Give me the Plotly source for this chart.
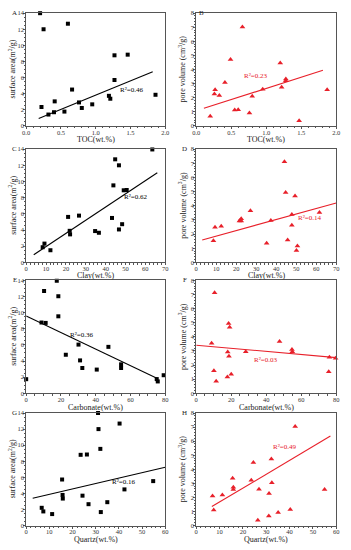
import plotly.graph_objects as go

# ---------------- data ----------------
toc_A = [0.20, 0.25, 0.22, 0.32, 0.41, 0.40, 0.55, 0.60, 0.66, 0.76, 0.80, 0.95, 1.19, 1.21, 1.27, 1.27, 1.46, 1.86]
sa_A = [14.0, 12.0, 2.33, 1.39, 3.03, 1.68, 1.76, 12.69, 4.50, 2.90, 2.21, 2.66, 3.72, 3.36, 8.76, 5.69, 8.84, 3.85]
toc_B = [0.20, 0.26, 0.27, 0.33, 0.41, 0.49, 0.55, 0.60, 0.66, 0.76, 0.80, 0.95, 1.20, 1.22, 1.28, 1.28, 1.47, 1.87]
pv_B = [0.68, 2.26, 2.56, 2.14, 3.08, 4.71, 1.12, 1.14, 7.02, 0.91, 2.10, 2.59, 4.45, 2.73, 3.33, 3.19, 0.35, 2.56]

clay_C = [8.3, 9.2, 12.2, 21.1, 21.9, 22.1, 26.6, 34.7, 36.6, 43.2, 43.9, 44.8, 46.7, 46.7, 48.3, 49.1, 50.6, 63.5]
sa_C = [1.87, 2.32, 1.50, 5.62, 3.90, 3.46, 5.78, 3.87, 3.66, 5.49, 9.52, 12.74, 12.0, 4.07, 4.72, 8.91, 8.95, 13.96]
clay_D = [8.6, 9.4, 12.5, 21.6, 22.0, 22.5, 22.5, 27.1, 35.2, 37.3, 44.1, 44.7, 45.7, 47.8, 47.8, 49.4, 50.1, 50.6, 61.6]
pv_D = [1.53, 2.48, 2.55, 2.92, 2.97, 3.09, 2.92, 3.64, 1.35, 2.95, 7.10, 4.94, 1.58, 3.39, 2.62, 4.69, 0.84, 1.16, 3.53]

carb_E = [0.0, 8.8, 10.3, 11.2, 17.6, 18.5, 18.5, 22.8, 30.1, 31.0, 32.3, 40.6, 47.3, 54.6, 54.6, 75.1, 75.7, 79.1]
sa_E = [1.75, 8.78, 12.69, 8.73, 13.96, 12.04, 9.55, 4.78, 6.04, 4.08, 3.14, 2.94, 5.76, 3.59, 3.14, 1.76, 1.47, 2.24]
carb_F = [8.8, 10.1, 10.5, 11.4, 17.8, 18.0, 18.5, 18.7, 19.1, 20.0, 28.3, 47.6, 54.7, 54.9, 75.7, 76.1, 79.6]
pv_F = [3.55, 1.60, 7.12, 0.86, 1.16, 2.92, 4.94, 2.62, 4.69, 1.35, 2.95, 3.67, 3.11, 2.95, 1.53, 2.55, 2.48]

qtz_G = [6.7, 7.4, 11.2, 15.5, 15.7, 15.8, 23.5, 26.2, 24.3, 26.9, 31.0, 31.2, 32.0, 32.2, 35.0, 40.3, 42.4, 54.8]
sa_G = [2.21, 1.76, 1.43, 5.73, 3.81, 3.36, 8.80, 8.84, 3.72, 2.66, 14.0, 12.0, 9.54, 1.68, 2.91, 12.69, 4.50, 5.53]
qtz_H = [7.0, 7.5, 11.2, 15.6, 15.9, 15.9, 23.6, 24.5, 26.4, 26.9, 31.1, 31.2, 32.2, 32.4, 35.1, 40.3, 42.4, 55.0]
pv_H = [2.10, 1.10, 2.17, 3.36, 2.73, 2.56, 3.22, 4.48, 0.37, 2.59, 0.68, 2.28, 4.73, 3.05, 0.93, 1.14, 7.04, 2.56]

# fitted trend lines (end points)
fit_x = {"A": [0.18, 1.82], "B": [0.11, 1.81], "C": [3.8, 66], "D": [3, 70],
         "E": [0, 75.5], "F": [0, 80], "G": [2.8, 60], "H": [6.7, 57.5]}
fit_y = {"A": [0.90, 6.71], "B": [1.24, 3.94], "C": [0.94, 11.07], "D": [1.58, 4.20],
         "E": [9.59, 1.84], "F": [3.41, 2.53], "G": [3.40, 7.25], "H": [1.35, 6.36]}
r2_text = {"A": "R²=0.46", "B": "R²=0.23", "C": "R²=0.62", "D": "R²=0.14",
           "E": "R²=0.36", "F": "R²=0.03", "G": "R²=0.16", "H": "R²=0.49"}
r2_pos = {"A": (1.51, 4.42), "B": (0.85, 3.5), "C": (55, 8.1), "D": (56.7, 3.13),
          "E": (31.6, 7.22), "F": (39.3, 2.39), "G": (42.2, 5.4), "H": (38, 5.57)}

x_titles = ["TOC(wt.%)", "Clay(wt.%)", "Carbonate(wt.%)", "Quartz(wt.%)"]
x_ranges = [[0, 2.0], [0, 70], [0, 80], [0, 60]]
x_dticks = [0.5, 10, 20, 10]
sa_title = "surface area(m<sup>2</sup>/g)"
pv_title = "pore volume (cm<sup>3</sup>/g)"

panels = [
    ("A", toc_A, sa_A, 0, 0), ("B", toc_B, pv_B, 0, 1),
    ("C", clay_C, sa_C, 1, 0), ("D", clay_D, pv_D, 1, 1),
    ("E", carb_E, sa_E, 2, 0), ("F", carb_F, pv_F, 2, 1),
    ("G", qtz_G, sa_G, 3, 0), ("H", qtz_H, pv_H, 3, 1),
]

# ---------------- layout geometry (pixels) ----------------
W, H = 351, 550
col_x = [(22.7, 165.0), (196.7, 340.0)]
row_y = [(9.3, 123.3), (147.0, 261.7), (280.0, 394.3), (414.3, 528.3)]
xt_y = [137, 275, 409, 542]

FONT = "Liberation Serif, Times New Roman, serif"
RED = "#e8202a"

fig = go.Figure()
layout = dict(width=W, height=H, margin=dict(l=0, r=0, t=0, b=0),
              paper_bgcolor="white", plot_bgcolor="white", showlegend=False,
              font=dict(family=FONT, size=7, color="#222"))
annotations = []

for i, (lab, xs, ys, r, c) in enumerate(panels):
    n = i + 1
    xa = "x" if n == 1 else f"x{n}"
    ya = "y" if n == 1 else f"y{n}"
    red = c == 1
    col = RED if red else "black"
    fig.add_trace(go.Scatter(
        x=xs, y=ys, mode="markers", xaxis=xa, yaxis=ya, cliponaxis=False,
        marker=dict(symbol="triangle-up" if red else "square", size=5 if red else 4,
                    color=col, line=dict(width=0))))
    fig.add_trace(go.Scatter(
        x=fit_x[lab], y=fit_y[lab], mode="lines", xaxis=xa, yaxis=ya,
        line=dict(color=col, width=1.1)))
    x0, x1 = col_x[c]
    y0, y1 = row_y[r]
    axcommon = dict(showline=True, linecolor="#555", linewidth=1, mirror=True,
                    ticks="outside", ticklen=2, tickwidth=1, tickcolor="#555",
                    showgrid=False, zeroline=False, ticklabelstandoff=-2,
                    tickfont=dict(family=FONT, size=6.5, color="#333"),
                    minor=dict(ticks="outside", ticklen=1.5, tickcolor="#555"))
    layout["xaxis" if n == 1 else f"xaxis{n}"] = dict(
        axcommon, domain=[x0 / W, x1 / W], range=x_ranges[r], dtick=x_dticks[r],
        tick0=0, anchor=ya, tickformat=".1f" if r == 0 else "d")
    layout["yaxis" if n == 1 else f"yaxis{n}"] = dict(
        axcommon, domain=[1 - y1 / H, 1 - y0 / H],
        range=[0, 8] if red else [0, 14], dtick=1 if red else 2, tick0=0,
        anchor=xa)
    # axis titles
    annotations.append(dict(text=x_titles[r], xref="paper", yref="paper",
                            x=(x0 + x1) / 2 / W, y=1 - xt_y[r] / H, showarrow=False,
                            font=dict(family=FONT, size=8, color="#222"),
                            xanchor="center", yanchor="middle"))
    annotations.append(dict(text=pv_title if red else sa_title, xref="paper", yref="paper",
                            x=(x0 - 14.5) / W, y=1 - (y0 + y1) / 2 / H, textangle=-90,
                            showarrow=False, font=dict(family=FONT, size=8, color="#222"),
                            xanchor="center", yanchor="middle"))
    # panel letter
    lx = 202.5 if lab == "B" else x0 - 11.5
    annotations.append(dict(text=lab, xref="paper", yref="paper", x=lx / W,
                            y=1 - y0 / H, showarrow=False,
                            font=dict(family=FONT, size=7, color="#222"),
                            xanchor="center", yanchor="middle"))
    # R2 label
    px, py = r2_pos[lab]
    annotations.append(dict(text=r2_text[lab], xref=xa, yref=ya, x=px, y=py,
                            showarrow=False, font=dict(family=FONT, size=7, color=col),
                            xanchor="center", yanchor="middle"))

layout["annotations"] = annotations
fig.update_layout(**layout)
fig.write_html("out.html", config={"displayModeBar": False},
               post_script="document.body.style.margin='0';document.body.style.overflow='hidden';")
